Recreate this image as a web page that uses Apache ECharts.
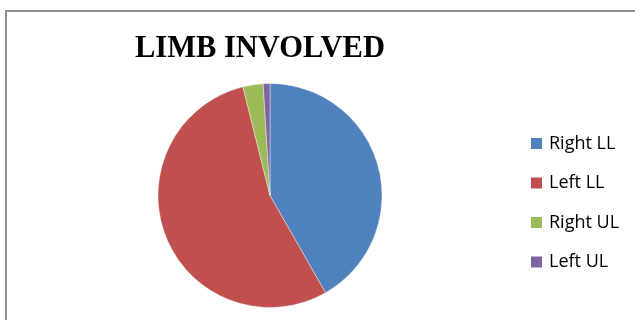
<!DOCTYPE html>
<html>
<head>
<meta charset="utf-8">
<script src="https://cdn.jsdelivr.net/npm/echarts@6/dist/echarts.min.js"></script>
<style>
  html, body { margin: 0; padding: 0; background: #fff; }
  #wrap { position: relative; width: 635px; height: 320px; overflow: hidden; }
  #frame { position: absolute; left: 5px; top: 10px; width: 700px; height: 400px;
           border-left: 2px solid #8f8f8f; border-top: 2px solid #8f8f8f; box-sizing: border-box; }
  #chart { position: absolute; left: 0; top: 0; width: 635px; height: 320px; }
</style>
</head>
<body>
<div id="wrap">
  <div id="frame"></div>
  <div id="chart"></div>
</div>
<script>
// Limb involvement counts
const categories = ['Right LL', 'Left LL', 'Right UL', 'Left UL'];
const counts = [43, 56, 3, 1];
const colors = ['#4F81BD', '#C0504D', '#9BBB59', '#8064A2'];

const chart = echarts.init(document.getElementById('chart'), null, { renderer: 'canvas' });
chart.setOption({
  animation: false,
  title: {
    text: 'LIMB INVOLVED',
    left: 135,
    top: 34,
    padding: 0,
    textStyle: {
      fontFamily: 'Liberation Serif',
      fontWeight: 'bold',
      fontSize: 30.5,
      color: '#000'
    }
  },
  legend: {
    orient: 'vertical',
    left: 531,
    top: 134.5,
    padding: 0,
    itemWidth: 11,
    itemHeight: 11,
    itemGap: 21.5,
    icon: 'rect',
    itemStyle: { borderWidth: 0 },
    data: categories,
    textStyle: {
      fontFamily: 'Open Sans',
      fontSize: 18,
      lineHeight: 18,
      color: '#000',
      padding: [0, 0, 0, 2]
    }
  },
  series: [{
    type: 'pie',
    center: [270, 195.5],
    radius: 112,
    startAngle: 90,
    clockwise: true,
    label: { show: false },
    labelLine: { show: false },
    itemStyle: { borderColor: '#fff', borderWidth: 0.4 },
    data: categories.map((name, i) => ({
      name,
      value: counts[i],
      itemStyle: { color: colors[i] }
    }))
  }]
});
</script>
</body>
</html>
